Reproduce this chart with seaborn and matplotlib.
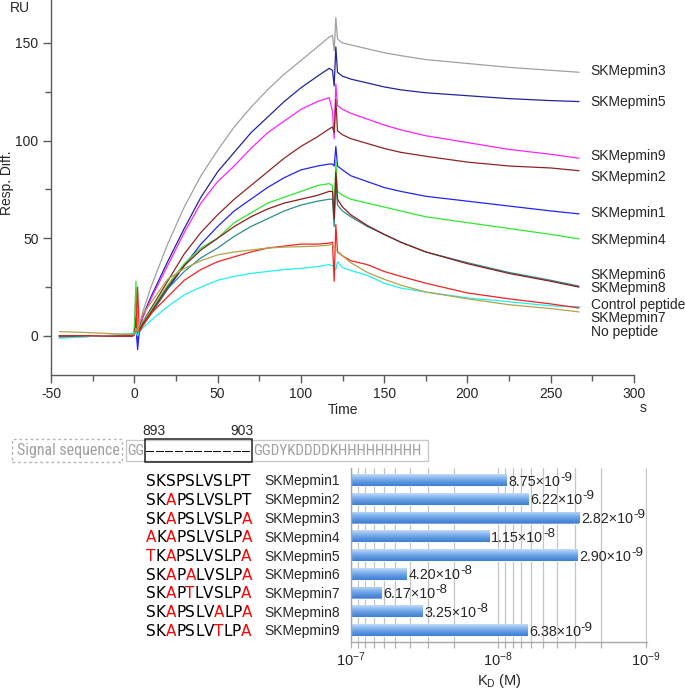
import numpy as np
import pandas as pd
import seaborn as sns
import matplotlib.pyplot as plt
import matplotlib.transforms as mtransforms
from matplotlib.patches import Rectangle
from matplotlib.ticker import MultipleLocator
from matplotlib.colors import LinearSegmentedColormap
from matplotlib.font_manager import FontProperties, fontManager

sns.set_theme(style='white')
plt.rcParams['font.family'] = ['Liberation Sans', 'DejaVu Sans']
plt.rcParams['axes.unicode_minus'] = False
plt.rcParams['mathtext.fontset'] = 'custom'
plt.rcParams['mathtext.rm'] = 'Liberation Sans'
plt.rcParams['mathtext.it'] = 'Liberation Sans:italic'
plt.rcParams['mathtext.bf'] = 'Liberation Sans:bold'

# ---- sensorgram data ----
time_s = [-45, -30, -15, -1, 0, 1, 2, 3, 5, 10, 20, 30, 40, 50, 60, 70, 80, 90, 100, 110,
          117, 119, 120, 121, 122, 125, 130, 140, 150, 160, 175, 200, 225, 250, 267]

ru_skm3 = [0, 0, 0, 0.5, 1, 3, -2, 4, 12, 25, 47, 66, 82, 95, 107, 117, 126, 134, 141, 148,
           153, 154, 146, 163, 152, 150, 149, 147, 145, 143.5, 141.5, 139.5, 137.5, 136, 135]
ru_skm5 = [-0.5, -0.3, 0, 0.5, 2, 10, -3, 4, 10, 20, 38, 55, 71, 84, 94, 104, 112, 120, 127, 133,
           137, 136, 128, 148, 135, 133, 131.5, 129.5, 127.5, 126, 124.5, 123, 121.5, 120.5, 120]
ru_skm9 = [0, 0, 0, 0, 2, 24, 0, 3, 9, 19, 36, 53, 68, 79, 87, 96, 104, 110, 116, 120,
           122, 115, 101, 129, 118, 116, 114, 111, 108, 105.5, 102.5, 99, 95.5, 93, 91]
ru_skm2 = [0, 0, 0, 0, 1, 8, -2, 3, 7, 14, 28, 42, 53, 62, 70, 77, 84, 91, 97, 102,
           106, 107, 104, 121, 105, 103, 101, 98.5, 96, 94, 92, 89, 87, 86, 84.6]
ru_skm1 = [0, 0, 0, 0, 0.5, 5, -7, 2, 6, 12, 24, 36, 47, 56, 64, 70, 76, 81, 85, 87,
           88, 88, 87, 97, 87, 85, 82, 79, 76, 74, 71.5, 69, 66.5, 64, 62.5]
ru_skm4 = [0, 0, 0, 0.5, 3, 28, 2, 4, 7, 13, 26, 37, 45, 50, 58, 63, 68, 71, 74, 77,
           78, 77, 60, 90, 74, 72, 70, 68, 66, 64, 61, 58, 55, 52, 49.7]
ru_skm6 = [0, 0, 0, 0, 1, 6, 0, 3, 6, 12, 25, 36, 44, 50, 56, 61, 65, 68, 70, 72,
           74, 74, 60, 84, 70, 66, 62, 56.5, 52, 48, 43, 37, 32, 28, 25]
ru_skm8 = [0, 0, 0, 0, 1, 5, 0, 3, 5.5, 11, 24, 33, 40, 45, 51, 56, 60, 64, 67, 69,
           70, 70, 56, 80, 67, 64, 61, 56, 52, 48, 43, 37.5, 32.5, 28.5, 25.5]
ru_skm7 = [0, 0, 0, 0, 1, 3, 25, 2, 5, 11.5, 20, 28.5, 34, 38, 40.5, 43, 45, 46, 47, 47,
           47.5, 48, 28, 57, 43, 41, 38.5, 36.5, 33, 30.5, 27, 22, 19, 16.4, 14.3]
ru_nopep = [2.2, 1.8, 1.2, 0.8, 1, 4, 2, 6, 11, 17, 29, 34.5, 38.5, 41.5, 43, 44, 45, 45.5, 45.7, 46,
            46.5, 47, 45, 44, 43.5, 41, 37.5, 32.5, 29, 26, 22.5, 19, 16, 14, 12.3]
ru_ctrl = [-1.2, -0.5, 0.3, 1.4, 1.5, 2, 0, 2, 4, 8, 15, 21, 25, 28.5, 30.5, 32, 33, 34, 34.6, 35.5,
           36.5, 36, 35, 34, 38, 35, 33.5, 31, 27, 24.5, 22.5, 19.5, 17.5, 15.4, 15]

curve_names = ['SKMepmin3', 'SKMepmin5', 'SKMepmin9', 'SKMepmin2', 'SKMepmin1', 'SKMepmin4',
               'SKMepmin6', 'SKMepmin8', 'Control peptide', 'SKMepmin7', 'No peptide']
curve_values = [ru_skm3, ru_skm5, ru_skm9, ru_skm2, ru_skm1, ru_skm4,
                ru_skm8, ru_skm6, ru_ctrl, ru_skm7, ru_nopep]
curve_colors = ['#a0a0a0', '#23239a', '#ff22ff', '#8e2424', '#2323f5', '#2ee82e',
                '#2b8c8c', '#8a1c1c', '#1ef0f0', '#f52020', '#b2a24a']

# label heights at the right end of the curves
label_ru = [135.7, 119.8, 92.2, 81.4, 63, 49.2, 31.2, 24.6, 15.9, 9.2, 2.0]

# ---- KD data ----
mepmin_names = ['SKMepmin%d' % i for i in range(1, 10)]
sequences = ['SKSPSLVSLPT', 'SKAPSLVSLPT', 'SKAPSLVSLPA', 'AKAPSLVSLPA', 'TKAPSLVSLPA',
             'SKAPALVSLPA', 'SKAPTLVSLPA', 'SKAPSLVALPA', 'SKAPSLVTLPA']
kd_M = [8.75e-9, 6.22e-9, 2.82e-9, 1.15e-8, 2.90e-9, 4.20e-8, 6.17e-8, 3.25e-8, 6.38e-9]

W, H = 685, 689
def fx(p):
    return p / W
def fy(p):
    return 1 - p / H

fig = plt.figure(figsize=(6.85, 6.89), dpi=100)
renderer = fig.canvas.get_renderer()

# ---- top panel: sensorgram ----
ax1 = fig.add_axes([fx(51), fy(375), 583 / W, 375 / H])
rows = []
for name, vals in zip(curve_names, curve_values):
    for t, v in zip(time_s, vals):
        rows.append((name, t, v))
df = pd.DataFrame(rows, columns=['curve', 'time', 'ru'])
sns.lineplot(data=df, x='time', y='ru', hue='curve', hue_order=curve_names,
             palette=dict(zip(curve_names, curve_colors)), estimator=None,
             linewidth=0.9, legend=False, ax=ax1)

ax1.set_xlim(-50, 300)
ax1.set_ylim(-20, 172)
ax1.xaxis.set_major_locator(MultipleLocator(50))
ax1.xaxis.set_minor_locator(MultipleLocator(25))
ax1.yaxis.set_major_locator(MultipleLocator(50))
ax1.yaxis.set_minor_locator(MultipleLocator(25))
for side in ['top', 'right']:
    ax1.spines[side].set_visible(False)
for side in ['left', 'bottom']:
    ax1.spines[side].set_color('#5a5a5a')
    ax1.spines[side].set_linewidth(1)
ax1.tick_params(which='major', direction='out', length=6, width=1, color='#5a5a5a',
                labelsize=10, pad=3, left=True, bottom=True)
ax1.tick_params(which='minor', direction='out', length=4, width=1, color='#5a5a5a',
                left=True, bottom=True)
ax1.set_xlabel('Time', fontsize=10, labelpad=1)
ax1.set_ylabel('')
for name, y in zip(curve_names, label_ru):
    ax1.text(274, y, name, fontsize=10, va='center', ha='left', clip_on=False)

fig.text(fx(20), fy(8), 'RU', fontsize=10, ha='center', va='center')
fig.text(fx(7), fy(183), 'Resp. Diff.', fontsize=10, ha='center', va='center', rotation=90)
fig.text(fx(643), fy(408), 's', fontsize=10, ha='center', va='center')

# ---- bottom panel: construct schematic ----
# a condensed face if one is installed, else plain Liberation Sans shrunk to fit
narrow_prop = FontProperties(family='Liberation Sans')
faces = {}
for f in fontManager.ttflist:
    if f.style == 'normal' and f.weight in (400, 'normal', 'regular'):
        faces.setdefault(f.name, f.fname)
for cand in ['Liberation Sans Narrow', 'Roboto Condensed', 'Open Sans Condensed',
             'Noto Sans Condensed', 'DejaVu Sans Condensed']:
    if cand in faces:
        narrow_prop = FontProperties(fname=faces[cand])
        break

def fitted_gray(x_left, x_right, y_mid, s):
    t = fig.text(fx(x_left), fy(y_mid), s, fontproperties=narrow_prop, fontsize=10,
                 color='#a0a0a0', ha='left', va='center')
    w = t.get_window_extent(renderer).width
    t.set_fontsize(min(11.5, 10 * (x_right - x_left) / w))
    return t

fig.patches.append(Rectangle((fx(12), fy(462)), 110 / W, 23 / H, transform=fig.transFigure,
                             fill=False, edgecolor='#b5b5b5', linestyle=(0, (2, 2)), linewidth=1))
fitted_gray(17, 120, 451, 'Signal sequence')
fig.patches.append(Rectangle((fx(126), fy(461)), 302 / W, 21 / H, transform=fig.transFigure,
                             fill=False, edgecolor='#c8c8c8', linewidth=1))
fitted_gray(127, 144, 451, 'GG')
fitted_gray(253, 424, 451, 'GGDYKDDDDKHHHHHHHHH')
fig.patches.append(Rectangle((fx(145), fy(462)), 107 / W, 23 / H, transform=fig.transFigure,
                             fill=False, edgecolor='#222222', linewidth=1.1))
for k in range(11):
    fig.text(fx(146 + k * 9.64), fy(451), '\u2013', fontsize=10.4, color='black',
             ha='left', va='center')
fig.text(fx(154), fy(431), '893', fontsize=10, ha='center', va='center')
fig.text(fx(242), fy(431), '903', fontsize=10, ha='center', va='center')

# ---- bottom panel: KD bars (log scale, 1e-7 on the left) ----
ax2 = fig.add_axes([fx(351), fy(642), 296 / W, 174 / H])
decades = np.log10(1e-7 / np.array(kd_M))
bar_df = pd.DataFrame({'name': mepmin_names, 'dec': decades})
sns.barplot(data=bar_df, x='dec', y='name', orient='h', width=0.64, color='#6fa6ea',
            edgecolor='white', linewidth=0.6, ax=ax2)

grad = LinearSegmentedColormap.from_list('bar', ['#c4dcf8', '#86b6ef', '#5d97e0', '#3f7fd2'])
gimg = np.linspace(0, 1, 64).reshape(-1, 1)
for p in list(ax2.patches):
    x0, y0, w, h = p.get_x(), p.get_y(), p.get_width(), p.get_height()
    im = ax2.imshow(gimg, cmap=grad, extent=[x0, x0 + w, y0 + h, y0], origin='upper',
                    aspect='auto', zorder=p.get_zorder() + 0.1, interpolation='bilinear')
    im.set_clip_path(p)

ax2.set_xlim(0, 2.01)
ax2.set_ylim(8.64, -0.64)
minor_pos = [d - np.log10(k) for d in (1, 2) for k in range(2, 10)]
ax2.set_xticks([0, 1, 2])
ax2.set_xticks(minor_pos, minor=True)
ax2.set_xticklabels(['10$^{-7}$', '10$^{-8}$', '10$^{-9}$'], fontsize=10.5)
ax2.set_axisbelow(True)
ax2.grid(False)
ax2.grid(True, which='both', axis='x', color='#c4c4c4', linewidth=0.9)
ax2.tick_params(axis='x', which='both', direction='out', length=4, width=0.9,
                color='#b0b0b0', pad=2, bottom=True)
ax2.tick_params(axis='y', length=0, labelsize=10, pad=8)
for side in ['top', 'right']:
    ax2.spines[side].set_visible(False)
for side in ['left', 'bottom']:
    ax2.spines[side].set_color('#a8a8a8')
    ax2.spines[side].set_linewidth(1)
ax2.set_ylabel('')
ax2.set_xlabel('K$_\\mathrm{D}$ (M)', fontsize=10.5, labelpad=2)

# value labels: mantissa x 10 with a raised exponent
for i, (dec, kd) in enumerate(zip(decades, kd_M)):
    e = int(np.floor(np.log10(kd)))
    m = kd / 10 ** e
    base = ax2.text(dec + 0.012, i + 0.3, '%.2f\u00d710' % m, fontsize=10.3,
                    ha='left', va='baseline', clip_on=False, zorder=5)
    ax2.annotate('%d' % e, xy=(1, 0.36), xycoords=base, fontsize=9.6, ha='left',
                 va='bottom', annotation_clip=False, zorder=5)

# sequences, mutated residues in red
wild = sequences[0]
seq_tr = mtransforms.blended_transform_factory(fig.transFigure, ax2.transData)
for i, seq in enumerate(sequences):
    prev = None
    for j, ch in enumerate(seq):
        col = 'red' if ch != wild[j] else 'black'
        if prev is None:
            prev = ax2.text(fx(146), i + 0.32, ch, transform=seq_tr, fontsize=11,
                            family='DejaVu Sans', color=col, ha='left', va='baseline',
                            clip_on=False)
        else:
            prev = ax2.annotate(ch, xy=(1, 0), xycoords=prev, fontsize=11,
                                family='DejaVu Sans', color=col, ha='left', va='bottom',
                                annotation_clip=False)

fig.savefig('out.png', dpi=100)
